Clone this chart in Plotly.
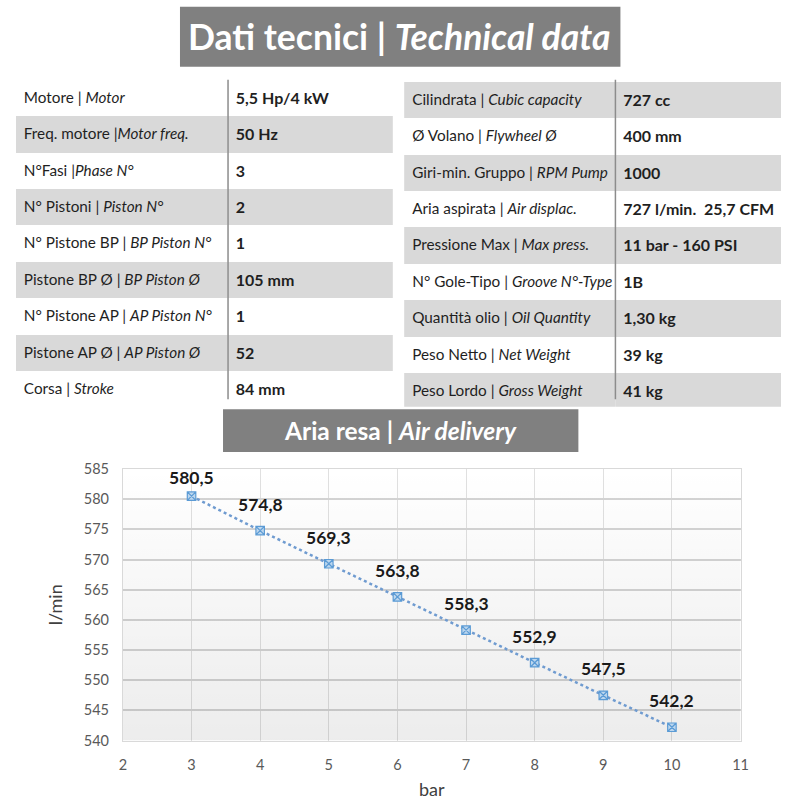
import plotly.graph_objects as go

# table data
left_labels = [
    "Motore | <i>Motor</i>",
    "Freq. motore |<i>Motor freq.</i>",
    "N°Fasi |<i>Phase N°</i>",
    "N° Pistoni | <i>Piston N°</i>",
    "N° Pistone BP | <i>BP Piston N°</i>",
    "Pistone BP Ø | <i>BP Piston Ø</i>",
    "N° Pistone AP | <i>AP Piston N°</i>",
    "Pistone AP Ø | <i>AP Piston Ø</i>",
    "Corsa | <i>Stroke</i>",
]
left_values = ["5,5 Hp/4 kW", "50 Hz", "3", "2", "1", "105 mm", "1", "52", "84 mm"]

right_labels = [
    "Cilindrata | <i>Cubic capacity</i>",
    "Ø Volano | <i>Flywheel Ø</i>",
    "Giri-min. Gruppo | <i>RPM Pump</i>",
    "Aria aspirata | <i>Air displac.</i>",
    "Pressione Max | <i>Max press.</i>",
    "N° Gole-Tipo | <i>Groove N°-Type</i>",
    "Quantità olio | <i>Oil Quantity</i>",
    "Peso Netto | <i>Net Weight</i>",
    "Peso Lordo | <i>Gross Weight</i>",
]
right_values = ["727 cc", "400 mm", "1000", "727 l/min.  25,7 CFM", "11 bar - 160 PSI",
                "1B", "1,30 kg", "39 kg", "41 kg"]

# air delivery data
pressure_bar = [3, 4, 5, 6, 7, 8, 9, 10]
air_lmin = [580.5, 574.8, 569.3, 563.8, 558.3, 552.9, 547.5, 542.2]

W = H = 800
FONT = "Lato"
GRAY_BOX = "#808080"
STRIPE = "#d9d9d9"
BLUE = "#5b9bd5"

# the screenshot comes out slightly shrunk, so target pixels are mapped back
CAL_X = (4.2, 0.984)
CAL_Y = (9.15, 0.978)
ROW_H = 35.6 / CAL_Y[1]
CELL_FONT = dict(family=FONT, size=[15.3, 16], color="#1f1f1f")


def px_x(p):
    return (p - CAL_X[0]) / CAL_X[1] / W


def px_y(p):
    return 1 - (p - CAL_Y[0]) / CAL_Y[1] / H


def nobreak(s):
    # keep plotly's table from wrapping the text
    return s.replace(" ", "\u00a0")


def make_table(labels, values, x0, xsplit, x1, y0, gray_first):
    n = len(labels)
    fills = [STRIPE if (i % 2 == 0) == gray_first else "white" for i in range(n)]
    labs = [nobreak(s) for s in labels]
    vals = ["<b>%s</b>" % nobreak(v) for v in values]
    # first row goes in the header so no empty header band shows up
    return go.Table(
        domain=dict(x=[px_x(x0), px_x(x1)], y=[px_y(y0 + n * 35.6 + 6), px_y(y0)]),
        columnwidth=[xsplit - x0, x1 - xsplit],
        header=dict(
            values=[labs[0], vals[0]],
            fill=dict(color=[fills[0], fills[0]]),
            line=dict(width=0, color="rgba(0,0,0,0)"),
            align="left", height=ROW_H, font=CELL_FONT,
        ),
        cells=dict(
            values=[labs[1:], vals[1:]],
            fill=dict(color=[fills[1:], fills[1:]]),
            line=dict(width=0, color="rgba(0,0,0,0)"),
            align="left", height=ROW_H, font=CELL_FONT,
        ),
    )


fig = go.Figure()
fig.add_trace(make_table(left_labels, left_values, 16, 228, 393, 80, False))
fig.add_trace(make_table(right_labels, right_values, 404, 615, 781, 82, True))

# chart
x_range = [2, 11]
y_range = [540, 585]
plot_top, plot_bottom = 470, 742
ppu = (plot_bottom - plot_top) / (y_range[1] - y_range[0])

# soft vertical gradient behind the plot
fig.add_trace(go.Scatter(
    x=[x_range[0], x_range[1], x_range[1], x_range[0], x_range[0]],
    y=[y_range[0], y_range[0], y_range[1], y_range[1], y_range[0]],
    fill="toself", mode="lines", line=dict(width=0),
    fillgradient=dict(type="vertical", start=y_range[0], stop=y_range[1],
                      colorscale=[[0, "rgba(0,0,0,0.075)"], [1, "rgba(0,0,0,0)"]]),
    hoverinfo="skip", showlegend=False,
))

fig.add_trace(go.Scatter(
    x=pressure_bar, y=air_lmin, mode="lines+markers",
    line=dict(color="#6f9bd0", width=2.5, dash="dot"),
    marker=dict(symbol="square-x", size=8.5, color="#bcd6ee",
                line=dict(color=BLUE, width=1.2)),
    showlegend=False,
))

for xv, yv in zip(pressure_bar, air_lmin):
    shift = min(14, (y_range[1] - yv) * ppu - 21)
    fig.add_annotation(
        x=xv, y=yv, text="<b>%s</b>" % f"{yv:.1f}".replace(".", ","),
        showarrow=False, yanchor="bottom", yshift=shift,
        font=dict(family=FONT, size=17.5, color="#1a1a1a"),
    )

fig.update_xaxes(
    domain=[px_x(123), px_x(740)], range=x_range, dtick=1,
    showgrid=True, gridcolor="#e0e0e0", gridwidth=1,
    showline=True, linecolor="#d9d9d9", mirror=True, zeroline=False,
    ticks="outside", ticklen=11, tickcolor="rgba(0,0,0,0)",
    tickfont=dict(family=FONT, size=14.5, color="#595959"),
    title=dict(text="bar", standoff=14, font=dict(family=FONT, size=18, color="#404040")),
)
fig.update_yaxes(
    domain=[px_y(plot_bottom), px_y(plot_top)], range=y_range, dtick=5,
    showgrid=True, gridcolor="#d4d4d4", gridwidth=1.5,
    showline=True, linecolor="#d9d9d9", mirror=True, zeroline=False,
    ticks="outside", ticklen=10, tickcolor="rgba(0,0,0,0)",
    tickfont=dict(family=FONT, size=14.5, color="#595959"),
    title=dict(text="l/min", standoff=16, font=dict(family=FONT, size=18, color="#404040")),
)

# title boxes
fig.add_shape(type="rect", xref="paper", yref="paper",
              x0=px_x(180), x1=px_x(620), y0=px_y(67), y1=px_y(7),
              fillcolor=GRAY_BOX, line=dict(width=0), layer="below")
fig.add_annotation(xref="paper", yref="paper", x=px_x(399), y=px_y(37),
                   xanchor="center", yanchor="middle",
                   text="<b>Dati tecnici | <i>Technical data</i></b>", showarrow=False,
                   font=dict(family=FONT, size=35.5, color="white"))
fig.add_shape(type="rect", xref="paper", yref="paper",
              x0=px_x(223), x1=px_x(578), y0=px_y(453), y1=px_y(410),
              fillcolor=GRAY_BOX, line=dict(width=0), layer="below")
fig.add_annotation(xref="paper", yref="paper", x=px_x(400), y=px_y(431),
                   xanchor="center", yanchor="middle",
                   text="<b>Aria resa | <i>Air delivery</i></b>", showarrow=False,
                   font=dict(family=FONT, size=24.5, color="white"))

# column separators
for xs in (228, 615):
    fig.add_shape(type="line", xref="paper", yref="paper",
                  x0=px_x(xs), x1=px_x(xs), y0=px_y(400), y1=px_y(80),
                  line=dict(color="#8c8c8c", width=1.5))

fig.update_layout(
    width=W, height=H, margin=dict(l=0, r=0, t=0, b=0),
    paper_bgcolor="white", plot_bgcolor="white",
    font=dict(family=FONT),
)

fig.write_html(
    "out.html",
    config={"displayModeBar": False},
    post_script="document.body.style.margin='0';"
                "document.documentElement.style.overflow='hidden';",
)
